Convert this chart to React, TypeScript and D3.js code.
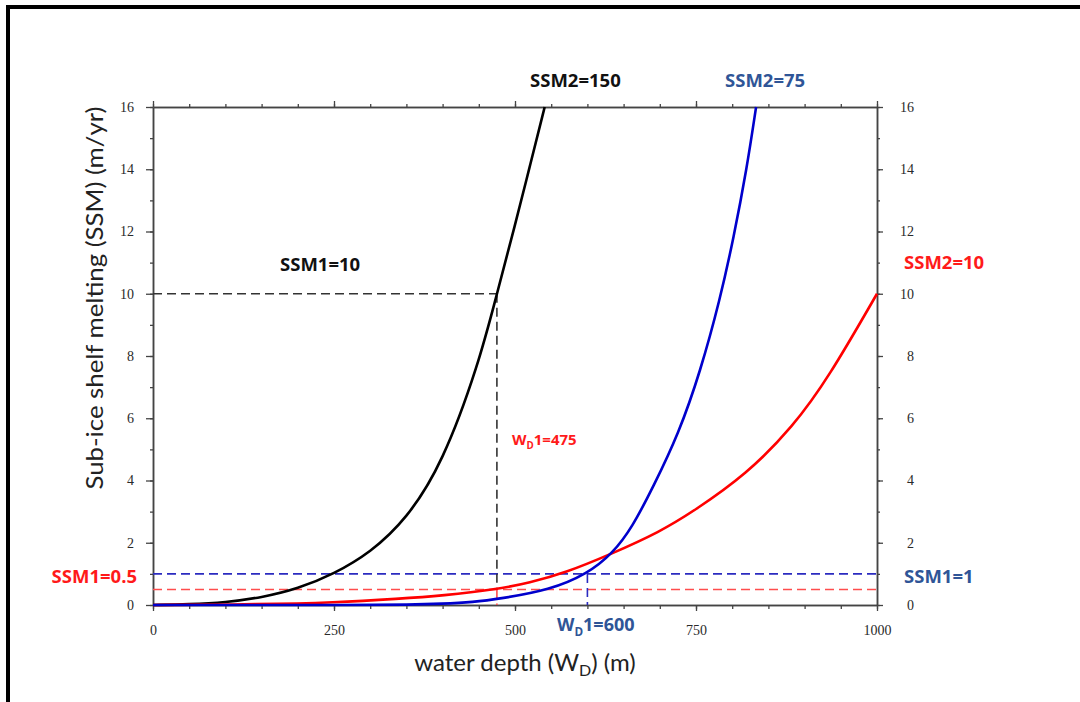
import React, { useRef, useEffect } from 'react';
import * as d3 from 'd3';

// curves: water depth (m) -> sub-ice shelf melting (m/yr)
const blackDepth = [0, 50, 100, 150, 200, 250, 300, 350, 400, 450, 475, 500, 520, 541];
const blackMelt = [0, 0.02, 0.08, 0.24, 0.52, 1.0, 1.68, 2.75, 4.55, 7.75, 10.0, 12.2, 14.05, 16];

const blueDepth = [0, 300, 350, 400, 442, 479, 548, 600, 635, 662, 691, 726, 756, 783, 802, 820, 833];
const blueMelt = [0, 0, 0.01, 0.04, 0.09, 0.2, 0.48, 1.0, 1.66, 2.5, 3.8, 5.5, 7.5, 9.8, 11.8, 14.0, 16];

const redDepth = [0, 150, 250, 340, 400, 475, 520, 568, 635, 700, 746, 820, 884, 933, 1000];
const redMelt = [0, 0.02, 0.08, 0.2, 0.3, 0.5, 0.72, 1.02, 1.66, 2.35, 3.0, 4.2, 5.73, 7.3, 10];

// reference values (dashed guides)
const blackSSM1 = 10;
const blackWD1 = 475;
const blueSSM1 = 1;
const blueWD1 = 600;
const redSSM1 = 0.5;
const redWD1 = 475;

const xTickValues = [0, 250, 500, 750, 1000];
const xMinorTicks = d3.range(0, 1001, 50);
const yTickValues = [0, 2, 4, 6, 8, 10, 12, 14, 16];
const yMinorTicks = d3.range(0, 17, 1);

const BLUE_TXT = '#2f5597';
const RED_TXT = '#ff1a1a';
const SANS = 'Open Sans, Lato, sans-serif';
const TITLE_FONT = 'Lato, Open Sans, sans-serif';

const App = () => {
  const svgRef = useRef<SVGSVGElement>(null);

  useEffect(() => {
    const svg = d3.select(svgRef.current);
    svg.selectAll('*').remove();

    const x = d3.scaleLinear().domain([0, 1000]).range([153, 877]);
    const y = d3.scaleLinear().domain([0, 16]).range([605, 107]);

    // outer frame (only left and top edges visible)
    svg.append('path')
      .attr('d', 'M8,712 L8,7 L1090,7')
      .attr('fill', 'none')
      .attr('stroke', '#000')
      .attr('stroke-width', 4);

    const styleAxis = (g: any) => {
      g.select('.domain').attr('stroke', '#444').attr('stroke-width', 1.5);
      g.selectAll('.tick line').attr('stroke', '#444').attr('stroke-width', 1.3);
      g.selectAll('.tick text')
        .attr('fill', '#2a2a2a')
        .style('font-family', 'Liberation Serif, serif')
        .style('font-size', '14px');
    };

    // minor ticks
    const minor = [
      d3.axisLeft(y).tickValues(yMinorTicks).tickSize(3).tickFormat(() => ''),
      d3.axisRight(y).tickValues(yMinorTicks).tickSize(3).tickFormat(() => ''),
      d3.axisTop(x).tickValues(xMinorTicks).tickSize(3).tickFormat(() => ''),
      d3.axisBottom(x).tickValues(xMinorTicks).tickSize(4).tickFormat(() => ''),
    ];
    const minorPos = ['translate(153,0)', 'translate(877,0)', 'translate(0,107)', 'translate(0,605)'];
    minor.forEach((ax, i) => {
      svg.append('g').attr('transform', minorPos[i]).call(ax.tickSizeOuter(0) as any).call(styleAxis);
    });

    // major axes
    svg.append('g')
      .attr('transform', 'translate(153,0)')
      .call(d3.axisLeft(y).tickValues(yTickValues).tickSize(7).tickSizeOuter(0).tickPadding(12) as any)
      .call(styleAxis);

    const right = svg.append('g')
      .attr('transform', 'translate(877,0)')
      .call(d3.axisRight(y).tickValues(yTickValues).tickSize(6).tickSizeOuter(0) as any)
      .call(styleAxis);
    right.selectAll('.tick text').attr('x', 37).attr('text-anchor', 'end');

    svg.append('g')
      .attr('transform', 'translate(0,107)')
      .call(d3.axisTop(x).tickValues(xTickValues).tickSize(6).tickSizeOuter(0).tickFormat(() => '') as any)
      .call(styleAxis);

    svg.append('g')
      .attr('transform', 'translate(0,605)')
      .call(d3.axisBottom(x).tickValues(xTickValues).tickSize(6).tickSizeOuter(0).tickPadding(14)
        .tickFormat(d3.format('d')) as any)
      .call(styleAxis);

    // dashed guides
    const dash = (x1: number, y1: number, x2: number, y2: number, color: string) => {
      svg.append('line')
        .attr('x1', x(x1)).attr('y1', y(y1))
        .attr('x2', x(x2)).attr('y2', y(y2))
        .attr('stroke', color)
        .attr('stroke-width', 1.6)
        .attr('stroke-dasharray', '9,5');
    };
    dash(0, blueSSM1, 1000, blueSSM1, '#2b2bc0');
    dash(0, redSSM1, 1000, redSSM1, '#ff4d4d');
    dash(0, blackSSM1, blackWD1, blackSSM1, '#333');
    dash(blackWD1, blackSSM1, blackWD1, redSSM1, '#333');
    dash(redWD1, redSSM1, redWD1, 0, '#ff4d4d');
    dash(blueWD1, blueSSM1, blueWD1, 0, '#2b2bc0');

    // curves
    const line = d3.line<[number, number]>()
      .x(d => x(d[0]))
      .y(d => y(d[1]))
      .curve(d3.curveBasis);

    const series: [number[], number[], string][] = [
      [blackDepth, blackMelt, '#000'],
      [redDepth, redMelt, '#ff0000'],
      [blueDepth, blueMelt, '#0000cc'],
    ];
    series.forEach(([dx, dy, color]) => {
      svg.append('path')
        .datum(dx.map((v, i) => [v, dy[i]] as [number, number]))
        .attr('d', line)
        .attr('fill', 'none')
        .attr('stroke', color)
        .attr('stroke-width', 2.6);
    });

    // axis titles
    svg.append('text')
      .attr('transform', 'translate(103,298) rotate(-90)')
      .attr('text-anchor', 'middle')
      .attr('textLength', 383)
      .attr('lengthAdjust', 'spacingAndGlyphs')
      .style('font-family', TITLE_FONT)
      .style('font-size', '23px')
      .attr('fill', '#222')
      .text('Sub-ice shelf melting (SSM) (m/yr)');

    const xt = svg.append('text')
      .attr('x', 525)
      .attr('y', 671)
      .attr('text-anchor', 'middle')
      .style('font-family', TITLE_FONT)
      .style('font-size', '24px')
      .attr('fill', '#222');
    xt.append('tspan').text('water depth (W');
    xt.append('tspan').attr('dy', 5).style('font-size', '16px').text('D');
    xt.append('tspan').attr('dy', -5).text(') (m)');

    // annotations
    const label = (tx: number, ty: number, txt: string, color: string, size: number, anchor = 'start') => {
      svg.append('text')
        .attr('x', tx).attr('y', ty)
        .attr('text-anchor', anchor)
        .style('font-family', SANS)
        .style('font-size', `${size}px`)
        .style('font-weight', 700)
        .attr('fill', color)
        .text(txt);
    };
    label(530, 87, 'SSM2=150', '#111', 18.5);
    label(725, 87, 'SSM2=75', BLUE_TXT, 18.5);
    label(280, 271, 'SSM1=10', '#111', 18.5);
    label(904, 269, 'SSM2=10', RED_TXT, 18.5);
    label(137, 583, 'SSM1=0.5', RED_TXT, 18.5, 'end');
    label(904, 583, 'SSM1=1', BLUE_TXT, 18.5);

    const sub = (tx: number, ty: number, rest: string, color: string, size: number) => {
      const t = svg.append('text')
        .attr('x', tx).attr('y', ty)
        .style('font-family', SANS)
        .style('font-size', `${size}px`)
        .style('font-weight', 700)
        .attr('fill', color);
      t.append('tspan').text('W');
      t.append('tspan').attr('dy', size * 0.25).style('font-size', `${size * 0.65}px`).text('D');
      t.append('tspan').attr('dy', -size * 0.25).text(rest);
    };
    sub(512, 445, '1=475', RED_TXT, 15);
    sub(557, 631, '1=600', BLUE_TXT, 18);
  }, []);

  return (
    <svg
      ref={svgRef}
      width={1080}
      height={702}
      style={{ position: 'absolute', left: 0, top: 0, background: '#fff' }}
    />
  );
};

export default App;
